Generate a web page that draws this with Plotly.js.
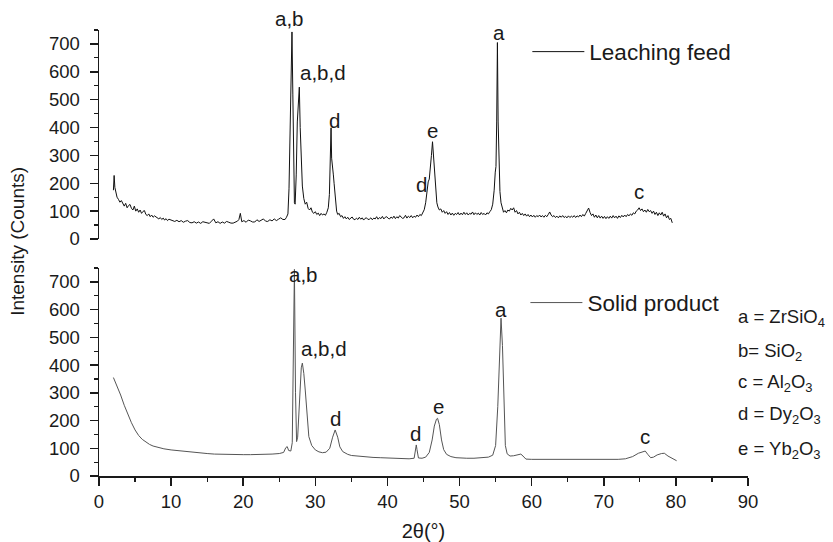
<!DOCTYPE html>
<html>
<head>
<meta charset="utf-8">
<script src="https://cdn.plot.ly/plotly-3.0.1.min.js"></script>
<style>html,body{margin:0;padding:0;background:#fff;}#chart{width:833px;height:542px;}</style>
</head>
<body>
<div id="chart"></div>
<script>
// ---- DATA ----
var seriesNames = ["Leaching feed", "Solid product"];

// Leaching feed XRD pattern: [2θ (°), intensity (counts)]
var feedPoints = [[2.0,175],[2.1,228],[2.2,185],[2.35,165],[2.5,150],[2.7,142],[2.9,132],[3.1,138],[3.3,125],[3.5,118],[3.7,128],[3.9,112],[4.1,120],[4.3,124],[4.5,110],[4.7,104],[4.9,118],[5.1,100],[5.3,108],[5.5,96],[5.7,104],[5.9,92],[6.1,99],[6.3,102],[6.5,88],[6.7,84],[6.9,90],[7.1,80],[7.3,86],[7.5,78],[7.7,83],[7.9,79],[8.1,74],[8.3,72],[8.5,77],[8.7,70],[8.9,75],[9.1,68],[9.3,73],[9.5,66],[9.7,71],[9.9,69],[10.2,64],[10.5,63],[10.8,67],[11.1,62],[11.4,66],[11.7,60],[12.0,64],[12.3,66],[12.6,59],[12.9,58],[13.2,62],[13.5,57],[13.8,61],[14.1,56],[14.4,62],[14.7,60],[15.0,56],[15.3,56],[15.6,64],[15.9,72],[16.2,58],[16.5,62],[16.8,56],[17.1,61],[17.4,57],[17.7,63],[18.0,60],[18.3,57],[18.6,57],[18.9,60],[19.2,64],[19.4,70],[19.6,92],[19.8,62],[20.1,66],[20.4,60],[20.7,68],[21.0,65],[21.3,61],[21.6,61],[21.9,69],[22.2,63],[22.5,68],[22.8,72],[23.1,64],[23.4,63],[23.7,69],[24.0,65],[24.3,72],[24.6,66],[24.9,71],[25.2,76],[25.5,70],[25.8,70],[26.0,78],[26.2,90],[26.35,180],[26.5,420],[26.65,650],[26.76,743],[26.88,520],[27.0,230],[27.1,130],[27.2,125],[27.35,230],[27.5,420],[27.65,520],[27.78,545],[27.9,400],[28.05,270],[28.2,190],[28.4,145],[28.6,125],[28.8,132],[29.0,110],[29.2,104],[29.4,112],[29.6,96],[29.8,92],[30.0,98],[30.2,88],[30.4,93],[30.6,84],[30.8,92],[31.0,86],[31.2,90],[31.4,85],[31.6,96],[31.8,112],[31.95,160],[32.05,250],[32.18,399],[32.26,290],[32.34,255],[32.42,265],[32.5,230],[32.6,200],[32.7,165],[32.8,120],[32.95,100],[33.1,88],[33.3,92],[33.5,80],[33.7,84],[33.9,74],[34.1,80],[34.3,72],[34.5,78],[34.7,70],[34.9,76],[35.1,79],[35.3,71],[35.5,69],[35.7,75],[35.9,70],[36.1,78],[36.3,71],[36.5,76],[36.7,68],[36.9,74],[37.1,76],[37.3,70],[37.5,71],[37.7,76],[37.9,69],[38.1,75],[38.3,72],[38.5,80],[38.7,71],[38.9,77],[39.1,73],[39.3,81],[39.5,72],[39.7,78],[39.9,80],[40.1,74],[40.3,72],[40.5,79],[40.7,74],[40.9,82],[41.1,73],[41.3,80],[41.5,75],[41.7,84],[41.9,79],[42.1,74],[42.3,76],[42.5,85],[42.7,75],[42.9,82],[43.1,77],[43.3,84],[43.5,76],[43.7,82],[43.9,78],[44.1,86],[44.3,80],[44.5,88],[44.7,84],[44.9,95],[45.1,105],[45.3,130],[45.5,175],[45.65,205],[45.8,215],[45.95,250],[46.1,300],[46.25,349],[46.4,300],[46.55,230],[46.7,170],[46.85,130],[47.0,115],[47.2,104],[47.4,108],[47.6,96],[47.8,102],[48.0,92],[48.2,98],[48.4,88],[48.6,95],[48.8,86],[49.0,93],[49.2,85],[49.4,92],[49.6,88],[49.8,95],[50.0,86],[50.2,93],[50.4,87],[50.6,96],[50.8,88],[51.0,94],[51.2,86],[51.4,92],[51.6,89],[51.8,97],[52.0,87],[52.2,94],[52.4,88],[52.6,93],[52.8,86],[53.0,95],[53.2,88],[53.4,92],[53.6,86],[53.8,94],[54.0,90],[54.2,98],[54.4,105],[54.6,125],[54.8,175],[54.95,240],[55.05,260],[55.15,420],[55.25,705],[55.35,420],[55.45,250],[55.6,170],[55.75,130],[55.9,110],[56.1,96],[56.3,102],[56.5,94],[56.7,104],[56.9,100],[57.1,110],[57.3,104],[57.5,112],[57.7,96],[57.9,102],[58.1,90],[58.3,96],[58.5,86],[58.7,92],[58.9,84],[59.1,90],[59.3,82],[59.5,88],[59.7,80],[59.9,86],[60.1,79],[60.3,85],[60.5,78],[60.7,84],[60.9,80],[61.1,86],[61.3,79],[61.5,84],[61.7,78],[61.9,85],[62.1,80],[62.3,88],[62.5,97],[62.7,86],[62.9,80],[63.1,84],[63.3,77],[63.5,82],[63.7,76],[63.9,83],[64.1,78],[64.3,84],[64.5,77],[64.7,81],[64.9,76],[65.1,83],[65.3,77],[65.5,82],[65.7,78],[65.9,84],[66.1,77],[66.3,83],[66.5,79],[66.7,86],[66.9,80],[67.1,88],[67.3,82],[67.5,92],[67.7,100],[67.9,111],[68.1,95],[68.3,84],[68.5,90],[68.7,78],[68.9,86],[69.1,76],[69.3,84],[69.5,75],[69.7,82],[69.9,74],[70.1,81],[70.3,73],[70.5,80],[70.7,74],[70.9,82],[71.1,75],[71.3,84],[71.5,76],[71.7,82],[71.9,74],[72.1,83],[72.3,77],[72.5,85],[72.7,79],[72.9,86],[73.1,80],[73.3,88],[73.5,83],[73.7,90],[73.9,85],[74.1,94],[74.3,90],[74.5,100],[74.7,104],[74.9,112],[75.1,102],[75.3,108],[75.5,98],[75.7,104],[75.9,96],[76.1,106],[76.3,98],[76.5,102],[76.7,92],[76.9,100],[77.1,88],[77.3,96],[77.5,84],[77.7,94],[77.9,86],[78.1,96],[78.3,82],[78.5,90],[78.7,76],[78.9,84],[79.1,70],[79.3,74],[79.5,58]];

// Solid product XRD pattern: [2θ (°), intensity (counts)]
var productPoints = [[2.0,355],[2.5,325],[3.0,292],[3.5,255],[4.0,222],[4.5,192],[5.0,166],[5.5,146],[6.0,132],[6.5,122],[7.0,114],[7.5,108],[8.0,104],[9.0,98],[10.0,94],[11.0,91],[12.0,88],[13.0,85],[14.0,83],[15.0,81],[16.0,79],[17.0,78],[18.0,77],[19.0,77],[20.0,77],[21.0,77],[22.0,77],[23.0,78],[24.0,79],[25.0,81],[25.6,85],[25.9,102],[26.1,106],[26.3,92],[26.6,90],[26.8,120],[26.95,400],[27.1,745],[27.25,300],[27.4,124],[27.55,140],[27.8,260],[28.05,390],[28.2,407],[28.4,370],[28.6,310],[28.85,220],[29.1,142],[29.5,110],[30.0,94],[30.5,87],[31.0,84],[31.5,86],[32.0,100],[32.4,140],[32.75,166],[33.1,140],[33.4,105],[33.8,88],[34.5,78],[35.0,74],[36.0,71],[37.0,69],[38.0,67],[39.0,66],[40.0,65],[41.0,64],[42.0,63],[43.0,62],[43.7,64],[43.9,100],[44.0,112],[44.1,95],[44.3,65],[44.8,64],[45.3,68],[45.8,85],[46.2,130],[46.5,180],[46.8,205],[46.95,208],[47.2,185],[47.5,130],[47.8,95],[48.2,78],[48.8,70],[49.5,66],[50.0,65],[51.0,64],[52.0,64],[53.0,65],[54.0,68],[54.6,75],[55.0,110],[55.3,250],[55.55,480],[55.75,569],[55.95,470],[56.15,250],[56.35,110],[56.6,80],[57.0,72],[57.5,73],[58.0,76],[58.5,79],[58.8,72],[59.2,61],[60.0,60],[62.0,60],[65.0,60],[68.0,60],[70.0,59],[72.0,60],[73.0,62],[74.0,70],[74.8,82],[75.5,89],[75.75,90],[76.1,78],[76.5,66],[76.9,68],[77.4,76],[78.0,81],[78.4,82],[78.9,72],[79.5,62],[80.1,55]];

// Phase labels on peaks: text, 2θ, intensity at label centre
var feedLabels = ["a,b", "a,b,d", "d", "d", "e", "a", "c"];
var feedLabelTheta = [26.4, 31.1, 32.6, 44.7, 46.3, 55.4, 74.9];
var feedLabelY = [743, 598, 426, 197, 391, 742, 169];

var productLabels = ["a,b", "a,b,d", "d", "d", "e", "a", "c"];
var productLabelTheta = [28.4, 31.2, 32.8, 43.9, 47.1, 55.8, 75.7];
var productLabelY = [725, 458, 209, 155, 249, 599, 142];

// Phase key
var keyLines = ["a = ZrSiO<sub>4</sub>", "b= SiO<sub>2</sub>", "c = Al<sub>2</sub>O<sub>3</sub>", "d = Dy<sub>2</sub>O<sub>3</sub>", "e = Yb<sub>2</sub>O<sub>3</sub>"];

var xTickVals = [0, 10, 20, 30, 40, 50, 60, 70, 80, 90];
var yTickVals = [0, 100, 200, 300, 400, 500, 600, 700];

// ---- CHART ----
var FONT = "Liberation Sans, Arial, Helvetica, sans-serif";
var INK = "#1a1a1a";

var traces = [
  {
    x: feedPoints.map(function (p) { return p[0]; }),
    y: feedPoints.map(function (p) { return p[1]; }),
    xaxis: "x2", yaxis: "y2", type: "scatter", mode: "lines",
    name: seriesNames[0], legend: "legend",
    line: { color: "#111111", width: 1 }
  },
  {
    x: productPoints.map(function (p) { return p[0]; }),
    y: productPoints.map(function (p) { return p[1]; }),
    xaxis: "x", yaxis: "y", type: "scatter", mode: "lines",
    name: seriesNames[1], legend: "legend2",
    line: { color: "#555555", width: 1 }
  }
];

var yAxisBase = {
  range: [0, 750], tickvals: yTickVals, ticks: "outside", ticklen: 8, tickwidth: 1.5,
  tickcolor: INK, showline: true, linecolor: INK, linewidth: 1.5, showgrid: false,
  zeroline: false, tickfont: { family: FONT, size: 18.5, color: INK }, ticklabelstandoff: 6,
  minor: { dtick: 50, tick0: 0, ticks: "outside", ticklen: 4, tickwidth: 1.2, tickcolor: INK, showgrid: false },
  fixedrange: true
};

var annotations = [];
function addLabels(texts, xs, ys, xref, yref, firstBottom) {
  for (var i = 0; i < texts.length; i++) {
    var a = { text: texts[i], x: xs[i], y: ys[i], xref: xref, yref: yref, showarrow: false,
      font: { family: FONT, size: 20.5, color: INK }, xanchor: "center",
      yanchor: (firstBottom && i === 0) ? "bottom" : "middle" };
    annotations.push(a);
  }
}
addLabels(feedLabels, feedLabelTheta, feedLabelY, "x2", "y2", true);
addLabels(productLabels, productLabelTheta, productLabelY, "x", "y", false);

var keyY = [0.354, 0.278, 0.2085, 0.1368, 0.058];
for (var k = 0; k < keyLines.length; k++) {
  annotations.push({ text: keyLines[k], xref: "paper", yref: "paper", x: 0.982, y: keyY[k],
    xanchor: "left", yanchor: "middle", showarrow: false,
    font: { family: FONT, size: 18.5, color: INK } });
}
annotations.push({ text: "Intensity (Counts)", xref: "paper", yref: "paper", x: -0.125, y: 0.527,
  textangle: -90, showarrow: false, xanchor: "center", yanchor: "middle",
  font: { family: FONT, size: 19, color: INK } });

var layout = {
  width: 833, height: 542,
  margin: { l: 99, r: 85, t: 30, b: 66 },
  paper_bgcolor: "#ffffff", plot_bgcolor: "#ffffff",
  font: { family: FONT, color: INK },
  xaxis: {
    domain: [0, 1], anchor: "y", range: [0, 90], tickvals: xTickVals, ticks: "outside",
    ticklen: 8, tickwidth: 1.5, tickcolor: INK, showline: true, linecolor: INK, linewidth: 1.5,
    showgrid: false, zeroline: false, tickfont: { family: FONT, size: 18.5, color: INK },
    minor: { dtick: 5, tick0: 0, ticks: "outside", ticklen: 4, tickwidth: 1.2, tickcolor: INK, showgrid: false },
    title: { text: "2θ(°)", font: { family: FONT, size: 20, color: INK }, standoff: 14 },
    fixedrange: true
  },
  xaxis2: { domain: [0, 1], anchor: "y2", range: [0, 90], visible: false, matches: "x", fixedrange: true },
  yaxis: Object.assign({}, yAxisBase, { domain: [0, 0.4664], anchor: "x" }),
  yaxis2: Object.assign({}, yAxisBase, { domain: [0.5314, 1], anchor: "x2" }),
  showlegend: true,
  legend: { x: 0.66, y: 0.9507, xanchor: "left", yanchor: "middle", bgcolor: "rgba(0,0,0,0)",
    font: { family: FONT, size: 22.5, color: INK }, itemwidth: 52 },
  legend2: { x: 0.657, y: 0.388, xanchor: "left", yanchor: "middle", bgcolor: "rgba(0,0,0,0)",
    font: { family: FONT, size: 22.5, color: INK }, itemwidth: 52 },
  annotations: annotations
};

Plotly.newPlot("chart", traces, layout, { staticPlot: true, displayModeBar: false });
</script>
</body>
</html>
